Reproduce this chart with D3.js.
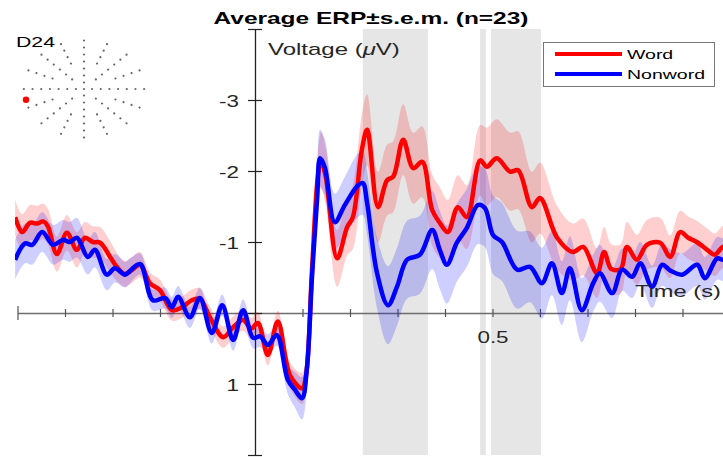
<!DOCTYPE html>
<html>
<head>
<meta charset="utf-8">
<script src="https://cdn.jsdelivr.net/npm/d3@7"></script>
<style>
  html, body { margin: 0; padding: 0; background: #fff; }
  svg { display: block; font-family: "Liberation Sans", Arial, sans-serif; }
</style>
</head>
<body>
<svg id="chart" width="723" height="457"></svg>
<script>
// ---------- DATA ----------
const titleText = "Average ERP\u00b1s.e.m. (n=23)";
const electrodeLabel = "D24";
const seriesNames = ["Word", "Nonword"];
const seriesColors = ["#ff0000", "#0000ff"];

const wordTime = [-0.505,-0.49,-0.474,-0.458,-0.446,-0.436,-0.417,-0.396,-0.375,-0.358,-0.341,-0.326,-0.305,-0.291,-0.274,-0.26,-0.242,-0.221,-0.2,-0.175,-0.154,-0.133,-0.116,-0.095,-0.067,-0.046,-0.025,-0.008,0.006,0.027,0.048,0.074,0.099,0.107,0.12,0.132,0.139,0.149,0.173,0.194,0.206,0.225,0.236,0.259,0.278,0.291,0.312,0.333,0.352,0.373,0.389,0.406,0.427,0.446,0.474,0.488,0.509,0.537,0.554,0.583,0.6,0.636,0.669,0.691,0.72,0.735,0.75,0.77,0.783,0.804,0.825,0.853,0.874,0.895,0.912,0.93,0.952,0.968,0.985,1.0];
const wordMean = [-1.35,-1.14,-1.27,-1.26,-1.29,-1.22,-0.83,-1.13,-0.89,-1.06,-1.0,-0.99,-0.79,-0.65,-0.55,-0.6,-0.68,-0.42,-0.32,-0.04,-0.08,-0.18,-0.2,0.06,0.34,0.2,0.1,0.22,0.14,0.59,0.12,0.88,1.06,0.9,-0.6,-1.9,-2.15,-1.92,-0.77,-1.21,-1.35,-2.3,-2.58,-1.49,-1.87,-1.92,-2.44,-2.04,-2.13,-1.45,-1.27,-1.14,-1.49,-1.35,-2.15,-2.06,-2.18,-1.99,-2.01,-1.49,-1.62,-1.06,-0.86,-0.93,-0.56,-0.86,-0.62,-0.62,-0.93,-0.75,-0.96,-0.99,-0.79,-1.14,-1.06,-1.0,-0.89,-0.82,-0.93,-0.9];
const wordSem = [0.25,0.25,0.25,0.25,0.25,0.25,0.25,0.25,0.25,0.22,0.22,0.22,0.22,0.2,0.18,0.18,0.18,0.15,0.15,0.15,0.15,0.15,0.15,0.15,0.15,0.15,0.15,0.15,0.15,0.15,0.15,0.18,0.22,0.25,0.3,0.35,0.4,0.4,0.4,0.4,0.45,0.5,0.5,0.5,0.5,0.5,0.5,0.5,0.5,0.5,0.5,0.45,0.45,0.45,0.5,0.55,0.55,0.55,0.55,0.5,0.5,0.45,0.4,0.4,0.35,0.35,0.35,0.35,0.35,0.35,0.35,0.35,0.3,0.3,0.3,0.3,0.3,0.3,0.3,0.3];

const nonwordTime = [-0.505,-0.484,-0.469,-0.448,-0.425,-0.404,-0.39,-0.375,-0.352,-0.337,-0.312,-0.295,-0.274,-0.267,-0.242,-0.215,-0.189,-0.175,-0.162,-0.137,-0.116,-0.091,-0.069,-0.046,-0.025,-0.004,0.011,0.027,0.046,0.069,0.084,0.099,0.109,0.12,0.131,0.137,0.147,0.168,0.189,0.217,0.227,0.236,0.257,0.28,0.299,0.32,0.347,0.373,0.389,0.404,0.425,0.446,0.469,0.484,0.501,0.52,0.552,0.579,0.604,0.625,0.646,0.663,0.688,0.712,0.726,0.752,0.773,0.794,0.811,0.836,0.857,0.874,0.899,0.931,0.947,0.973,0.985,1.0];
const nonwordMean = [-0.75,-0.98,-0.96,-1.14,-0.96,-1.03,-1.0,-1.06,-0.79,-0.89,-0.54,-0.63,-0.54,-0.57,-0.69,-0.18,-0.21,-0.08,-0.23,0.06,-0.21,0.28,-0.11,0.38,-0.04,0.35,0.33,0.45,0.31,0.94,1.08,1.2,0.8,-0.51,-1.63,-2.18,-2.05,-1.28,-1.52,-1.8,-1.83,-1.55,-0.56,-0.11,-0.37,-0.75,-0.82,-1.17,-0.89,-0.68,-0.99,-1.2,-1.52,-1.48,-1.1,-1.0,-0.61,-0.65,-0.42,-0.7,-0.28,-0.63,-0.04,-0.42,-0.56,-0.28,-0.61,-0.51,-0.7,-0.37,-0.68,-0.6,-0.54,-0.68,-0.49,-0.77,-0.75,-0.78];
const nonwordSem = [0.28,0.28,0.28,0.28,0.28,0.28,0.28,0.28,0.25,0.25,0.22,0.2,0.18,0.18,0.15,0.15,0.15,0.15,0.15,0.15,0.15,0.15,0.15,0.15,0.15,0.15,0.15,0.15,0.15,0.2,0.25,0.3,0.3,0.3,0.35,0.4,0.4,0.4,0.4,0.45,0.45,0.45,0.5,0.55,0.55,0.55,0.55,0.55,0.55,0.55,0.55,0.55,0.55,0.55,0.55,0.55,0.55,0.5,0.5,0.45,0.45,0.45,0.45,0.4,0.4,0.35,0.3,0.3,0.3,0.3,0.3,0.3,0.3,0.3,0.3,0.3,0.3,0.3];

// significance windows (s)
const windowStart = [0.227, 0.474, 0.497];
const windowEnd   = [0.364, 0.486, 0.602];

// axis ticks
const yTickValues = [-4, -3, -2, -1, 0, 1, 2];
const yTickLabels = ["", "-3", "-2", "-1", "", "1", ""];
const xTickValues = [-0.5, -0.4, -0.3, -0.2, -0.1, 0.1, 0.2, 0.3, 0.4, 0.5, 0.6, 0.7, 0.8, 0.9, 1.0];
const xTickLabels = ["", "", "", "", "", "", "", "", "", "0.5", "", "", "", "", ""];

// sensor montage (inset): spoke angles, first ring index on each spoke
const sensorAngles = [0, 22.5, 45, 67.5, 90, 112.5, 135, 157.5, 180, 202.5, 225, 247.5, 270, 292.5, 315, 337.5];
const sensorFirstRing = [0, 3, 1, 3, 0, 3, 1, 3, 0, 3, 1, 3, 0, 3, 1, 3];
const sensorRings = [0.13, 0.27, 0.41, 0.55, 0.69, 0.83, 0.97];
const highlightAngle = 167;
const highlightRing = 0.96;

// ---------- DRAW ----------
const svg = d3.select("#chart");
const W = 723, H = 457;
svg.append("rect").attr("width", W).attr("height", H).attr("fill", "#fff");

const x = d3.scaleLinear().domain([-0.5, 1.0]).range([17.5, 730]);
const y = d3.scaleLinear().domain([-4, 2]).range([29, 455]);

const STRETCH = 1.5;
function stretchedText(g, str, px, py, opts) {
  const t = g.append("text")
    .attr("transform", `translate(${px},${py}) scale(${opts.sx || STRETCH},1)`)
    .attr("font-size", opts.size)
    .attr("font-weight", opts.weight || "normal")
    .attr("text-anchor", opts.anchor || "start")
    .attr("fill", opts.fill || "#262626");
  t.text(str);
  return t;
}

svg.append("defs").append("clipPath").attr("id", "plotclip")
  .append("rect").attr("x", 15).attr("y", y(-4)).attr("width", W - 15).attr("height", y(2) - y(-4));

// gray windows
const win = d3.range(windowStart.length).map(i => [windowStart[i], windowEnd[i]]);
svg.append("g").selectAll("rect").data(win).join("rect")
  .attr("x", d => x(d[0])).attr("width", d => x(d[1]) - x(d[0]))
  .attr("y", y(-4)).attr("height", y(2) - y(-4))
  .attr("fill", "#e6e6e6");

// x axis
const xAxis = d3.axisBottom(x).tickValues(xTickValues)
  .tickFormat((d, i) => xTickLabels[i]).tickSizeInner(4).tickSizeOuter(0);
const gx = svg.append("g").attr("transform", `translate(0,${y(0)})`).call(xAxis);
gx.select(".domain").attr("stroke", "#6e6e6e").attr("stroke-width", 1.3);
gx.selectAll(".tick line").attr("stroke", "#555").attr("stroke-width", 1.2)
  .attr("y1", d => d === -0.5 ? -7 : -4).attr("y2", d => d === -0.5 ? 7 : 4);
gx.selectAll(".tick text")
  .attr("y", 0).attr("dy", 0)
  .attr("transform", `translate(0,30) scale(1.4,1)`)
  .attr("font-size", 16).attr("fill", "#262626")
  .attr("font-family", "Liberation Sans, Arial, sans-serif");

// y axis
const yAxis = d3.axisLeft(y).tickValues(yTickValues)
  .tickFormat((d, i) => yTickLabels[i]).tickSizeInner(7).tickSizeOuter(0);
const gy = svg.append("g").attr("transform", `translate(${x(0)},0)`).call(yAxis);
gy.select(".domain").attr("stroke", "#222").attr("stroke-width", 1.3);
gy.selectAll(".tick line").attr("stroke", "#222").attr("stroke-width", 1.2)
  .attr("x1", 7).attr("x2", -7);
gy.selectAll(".tick text")
  .attr("x", 0).attr("dy", 0)
  .attr("transform", `translate(-16,6) scale(1.4,1)`)
  .attr("font-size", 16).attr("fill", "#262626")
  .attr("font-family", "Liberation Sans, Arial, sans-serif");

// bands and lines
const series = [
  { name: seriesNames[0], color: seriesColors[0], pts: wordTime.map((t, i) => ({ t, m: wordMean[i], s: wordSem[i] })) },
  { name: seriesNames[1], color: seriesColors[1], pts: nonwordTime.map((t, i) => ({ t, m: nonwordMean[i], s: nonwordSem[i] })) }
];
const plot = svg.append("g").attr("clip-path", "url(#plotclip)");
const area = d3.area().curve(d3.curveCatmullRom.alpha(0.5))
  .x(d => x(d.t)).y0(d => y(d.m - d.s)).y1(d => y(d.m + d.s));
const line = d3.line().curve(d3.curveCatmullRom.alpha(0.5))
  .x(d => x(d.t)).y(d => y(d.m));
plot.selectAll("path.band").data(series).join("path").attr("class", "band")
  .attr("d", d => area(d.pts)).attr("fill", d => d.color).attr("fill-opacity", 0.19);
plot.selectAll("path.trace").data(series).join("path").attr("class", "trace")
  .attr("d", d => line(d.pts)).attr("fill", "none").attr("stroke", d => d.color)
  .attr("stroke-width", 4.5).attr("stroke-linejoin", "round");

// axis labels
const vl = svg.append("text")
  .attr("transform", `translate(268,55) scale(1.5,1)`)
  .attr("font-size", 16).attr("fill", "#262626");
vl.append("tspan").text("Voltage (");
vl.append("tspan").attr("font-style", "italic").text("\u03bc");
vl.append("tspan").text("V)");
stretchedText(svg, "Time (s)", 635, 297, { size: 16, sx: 1.48 });

// title
stretchedText(svg, titleText, 371, 24, { size: 16, weight: "bold", anchor: "middle", sx: 1.53, fill: "#000" });

// legend
const lg = svg.append("g");
lg.append("rect").attr("x", 543.5).attr("y", 42.5).attr("width", 171).attr("height", 44)
  .attr("fill", "#fff").attr("stroke", "#777").attr("stroke-width", 1);
series.forEach((s, i) => {
  const ly = 54 + i * 20;
  lg.append("line").attr("x1", 555).attr("x2", 622).attr("y1", ly).attr("y2", ly)
    .attr("stroke", s.color).attr("stroke-width", 4);
  stretchedText(lg, s.name, 627, ly + 5, { size: 13, sx: 1.5, fill: "#000" });
});

// inset montage
const inset = svg.append("g");
stretchedText(inset, electrodeLabel, 16, 47, { size: 15, sx: 1.42, fill: "#000" });
const cx = 84, cy = 89, rx = 62, ry = 50;
const sensors = [];
sensorAngles.forEach((a, k) => sensorRings.forEach((r, j) => { if (j >= sensorFirstRing[k]) sensors.push({ a, r }); }));
sensors.push({ a: 0, r: 0 });
const px = d => cx + rx * d.r * Math.cos(d.a * Math.PI / 180);
const py = d => cy + ry * d.r * Math.sin(d.a * Math.PI / 180);
inset.selectAll("circle.s").data(sensors).join("circle").attr("class", "s")
  .attr("cx", px).attr("cy", py).attr("r", 1.1).attr("fill", "#666");
inset.append("circle").datum({ a: highlightAngle, r: highlightRing })
  .attr("cx", px).attr("cy", py).attr("r", 3.2).attr("fill", "#ff0000");
</script>
</body>
</html>
